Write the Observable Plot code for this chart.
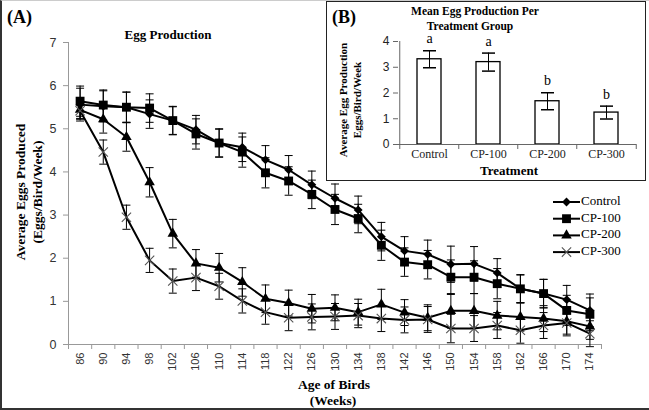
<!DOCTYPE html>
<html><head><meta charset="utf-8">
<script src="https://cdn.jsdelivr.net/npm/d3@7"></script>
<script src="https://cdn.jsdelivr.net/npm/@observablehq/plot@0.6"></script>
<style>
body{margin:0;background:#fff;}
#wrap{position:relative;width:649px;height:410px;overflow:hidden;background:#fff;}
#main,#inset,#overlay{position:absolute;left:0;top:0;}
#insetBox{position:absolute;left:326px;top:1px;width:320px;height:180px;box-sizing:border-box;border:1.5px solid #222;background:#fff;}
#inset{left:326px;top:0;}
#frame{position:absolute;left:0;top:0;width:649px;height:410px;box-sizing:border-box;border-left:2px solid #333;border-bottom:2px solid #333;border-top:1px solid #ccc;pointer-events:none;}
</style></head><body>
<div id="wrap"><div id="main"></div><div id="insetBox"></div><div id="inset"></div><div id="overlay"></div><div id="frame"></div></div>
<script>
// ---- data: panel A ----
const ages = [86,90,94,98,102,106,110,114,118,122,126,130,134,138,142,146,150,154,158,162,166,170,174];
const seriesNames = ["Control","CP-100","CP-200","CP-300"];
const control = [5.56,5.52,5.50,5.34,5.19,4.98,4.67,4.57,4.28,4.05,3.70,3.39,3.12,2.50,2.17,2.09,1.86,1.87,1.66,1.29,1.18,1.04,0.79];
const cp100   = [5.64,5.55,5.50,5.48,5.19,4.88,4.67,4.46,3.98,3.79,3.48,3.13,2.92,2.30,1.91,1.85,1.56,1.56,1.41,1.29,1.18,0.79,0.70];
const cp200   = [5.44,5.22,4.81,3.76,2.57,1.88,1.78,1.45,1.06,0.96,0.83,0.85,0.75,0.93,0.74,0.62,0.78,0.78,0.67,0.64,0.60,0.54,0.42];
const cp300   = [5.42,4.46,2.95,1.95,1.47,1.55,1.35,1.01,0.75,0.62,0.64,0.65,0.67,0.60,0.57,0.58,0.37,0.37,0.44,0.33,0.44,0.50,0.25];
const controlErr = [0.38,0.36,0.35,0.33,0.32,0.33,0.32,0.33,0.33,0.33,0.32,0.33,0.32,0.33,0.33,0.33,0.42,0.40,0.33,0.32,0.33,0.33,0.38];
const cp100Err   = [0.35,0.35,0.35,0.33,0.33,0.35,0.33,0.35,0.35,0.33,0.33,0.35,0.33,0.35,0.33,0.33,0.40,0.38,0.35,0.33,0.33,0.35,0.38];
const cp200Err   = [0.20,0.32,0.33,0.34,0.33,0.32,0.33,0.33,0.32,0.30,0.33,0.30,0.30,0.35,0.30,0.30,0.40,0.40,0.33,0.33,0.30,0.30,0.30];
const cp300Err   = [0.20,0.28,0.28,0.28,0.28,0.30,0.30,0.28,0.28,0.30,0.30,0.30,0.28,0.30,0.30,0.30,0.33,0.30,0.30,0.30,0.30,0.30,0.30];

// ---- data: panel B ----
const groups = ["Control","CP-100","CP-200","CP-300"];
const groupMeans = [3.31,3.20,1.68,1.24];
const groupErr = [0.33,0.35,0.33,0.25];
const groupLetters = ["a","a","b","b"];

const serif = "Liberation Serif, Times New Roman, serif";
const sans = "Liberation Sans, Arial, sans-serif";

const values = [control, cp100, cp200, cp300];
const errs = [controlErr, cp100Err, cp200Err, cp300Err];
const rows = seriesNames.flatMap((s, k) => ages.map((a, i) => ({series: s, age: a, v: values[k][i], e: errs[k][i]})));

const styles = {
  "Control": {symbol: "diamond2", r: 4.0, fill: "#000", stroke: "none", sw: 0},
  "CP-100": {symbol: "square", r: 5.0, fill: "#000", stroke: "none", sw: 0},
  "CP-200": {symbol: "triangle", r: 3.9, fill: "#000", stroke: "none", sw: 0},
  "CP-300": {symbol: "times", r: 4.3, fill: "none", stroke: "#555", sw: 1.1}
};

const cap = {draw(ctx, size) { const r = Math.sqrt(size / Math.PI); ctx.moveTo(-r, 0); ctx.lineTo(r, 0); }};

const dotMarks = seriesNames.map(s => Plot.dot(rows.filter(d => d.series === s), {
  x: "age", y: "v", symbol: styles[s].symbol, r: styles[s].r,
  fill: styles[s].fill, stroke: styles[s].stroke, strokeWidth: styles[s].sw
}));

const main = Plot.plot({
  width: 649, height: 410,
  marginLeft: 68, marginRight: 48, marginTop: 42, marginBottom: 66,
  style: {background: "transparent", color: "#333"},
  x: {domain: [84, 176]},
  y: {domain: [0, 7]},
  marks: [
    Plot.ruleX([84], {stroke: "#999"}),
    Plot.ruleY([0], {stroke: "#999"}),
    Plot.axisY({ticks: d3.range(0, 8), tickFormat: "d", tickSize: 5, tickPadding: 7, stroke: "#999", fontSize: 12.5, fontFamily: sans, label: null}),
    Plot.axisX({ticks: d3.range(84, 177, 4), tickSize: 5, tickFormat: () => "", stroke: "#999", label: null}),
    Plot.axisX({ticks: ages, tickFormat: "d", tickSize: 0, tickPadding: 8, tickRotate: -90, fontSize: 11, fontFamily: sans, label: null}),
    Plot.ruleX(rows, {x: "age", y1: d => d.v - d.e, y2: d => d.v + d.e, stroke: "#000", strokeWidth: 1}),
    Plot.dot(rows, {x: "age", y: d => d.v + d.e, symbol: cap, r: 4, fill: "none", stroke: "#000", strokeWidth: 1}),
    Plot.dot(rows, {x: "age", y: d => d.v - d.e, symbol: cap, r: 4, fill: "none", stroke: "#000", strokeWidth: 1}),
    Plot.line(rows, {x: "age", y: "v", z: "series", stroke: "#000", strokeWidth: 2}),
    ...dotMarks
  ]
});
document.getElementById("main").appendChild(main);

// ---- inset ----
const insetRows = groups.map((g, i) => ({group: g, mean: groupMeans[i], se: groupErr[i], letter: groupLetters[i]}));
const half = 238 / 4 / 2;
const inset = Plot.plot({
  width: 320, height: 180,
  marginLeft: 72, marginRight: 10, marginTop: 41, marginBottom: 36,
  style: {background: "transparent", color: "#222"},
  x: {domain: groups, paddingInner: 0.6, paddingOuter: 0.3},
  y: {domain: [0, 4]},
  marks: [
    Plot.barY(insetRows, {x: "group", y: "mean", fill: "#fff", stroke: "#000", strokeWidth: 1.3}),
    Plot.ruleY([0], {stroke: "#666"}),
    Plot.ruleX([groups[0]], {dx: -half, stroke: "#666"}),
    Plot.axisY({ticks: d3.range(0, 5), tickFormat: "d", tickSize: 5, tickPadding: 4, stroke: "#666", fontSize: 12, fontFamily: sans, label: null}),
    Plot.axisX({tickSize: 5, dx: -half, tickFormat: () => "", stroke: "#666", label: null}),
    Plot.axisX({ticks: [groups[3]], tickSize: 5, dx: half, tickFormat: () => "", stroke: "#666", label: null}),
    Plot.axisX({tickSize: 0, tickPadding: 5, fontSize: 12, fontFamily: serif, label: null}),
    Plot.ruleX(insetRows, {x: "group", y1: d => d.mean - d.se, y2: d => d.mean + d.se, stroke: "#000", strokeWidth: 1}),
    Plot.dot(insetRows, {x: "group", y: d => d.mean + d.se, symbol: cap, r: 6.5, fill: "none", stroke: "#000"}),
    Plot.dot(insetRows, {x: "group", y: d => d.mean - d.se, symbol: cap, r: 6.5, fill: "none", stroke: "#000"}),
    Plot.text(insetRows, {x: "group", y: d => d.mean + d.se, text: "letter", dy: -12, fontSize: 14, fontFamily: serif, fill: "#000"})
  ]
});
document.getElementById("inset").appendChild(inset);

// ---- overlay text + legend ----
const svg = d3.select("#overlay").append("svg").attr("width", 649).attr("height", 410)
  .attr("font-family", serif).style("pointer-events", "none");
function txt(x, y, s, size, opts = {}) {
  const t = svg.append("text").attr("x", x).attr("y", y).text(s)
    .attr("font-family", serif)
    .attr("font-size", size).attr("font-weight", opts.bold === false ? "normal" : "bold")
    .attr("text-anchor", opts.anchor || "middle").attr("fill", "#000");
  if (opts.rotate) t.attr("transform", `rotate(-90,${x},${y})`).attr("dominant-baseline", "middle");
  return t;
}
txt(7, 23, "(A)", 18, {anchor: "start"});
txt(168, 39, "Egg Production", 13);
txt(22, 192, "Average Eggs Produced", 13.5, {rotate: true});
txt(39, 192, "(Eggs/Bird/Week)", 13.5, {rotate: true});
txt(334, 389, "Age of Birds", 13.5);
txt(333, 405, "(Weeks)", 13.5);
txt(332, 23, "(B)", 18, {anchor: "start"});
txt(475, 15, "Mean Egg Production Per", 11.5);
txt(470, 30, "Treatment Group", 11.5);
txt(344, 100, "Average Egg Production", 11, {rotate: true});
txt(358, 100, "Eggs/Bird/Week", 11, {rotate: true});
txt(509, 175, "Treatment", 13);

const symMap = {diamond2: d3.symbolDiamond2, square: d3.symbolSquare, triangle: d3.symbolTriangle, times: d3.symbolTimes};
seriesNames.forEach((s, i) => {
  const y = 202 + i * 16.7;
  const st = styles[s];
  svg.append("line").attr("x1", 553).attr("x2", 580).attr("y1", y).attr("y2", y).attr("stroke", "#000").attr("stroke-width", 2);
  svg.append("path").attr("d", d3.symbol(symMap[st.symbol], st.r * st.r * Math.PI)())
    .attr("transform", `translate(566.5,${y})`).attr("fill", st.fill).attr("stroke", st.stroke).attr("stroke-width", st.sw);
  svg.append("text").attr("x", 581).attr("y", y).attr("dominant-baseline", "middle").attr("font-size", 13)
    .attr("font-family", serif).attr("fill", "#000").text(s);
});
</script>
</body></html>
